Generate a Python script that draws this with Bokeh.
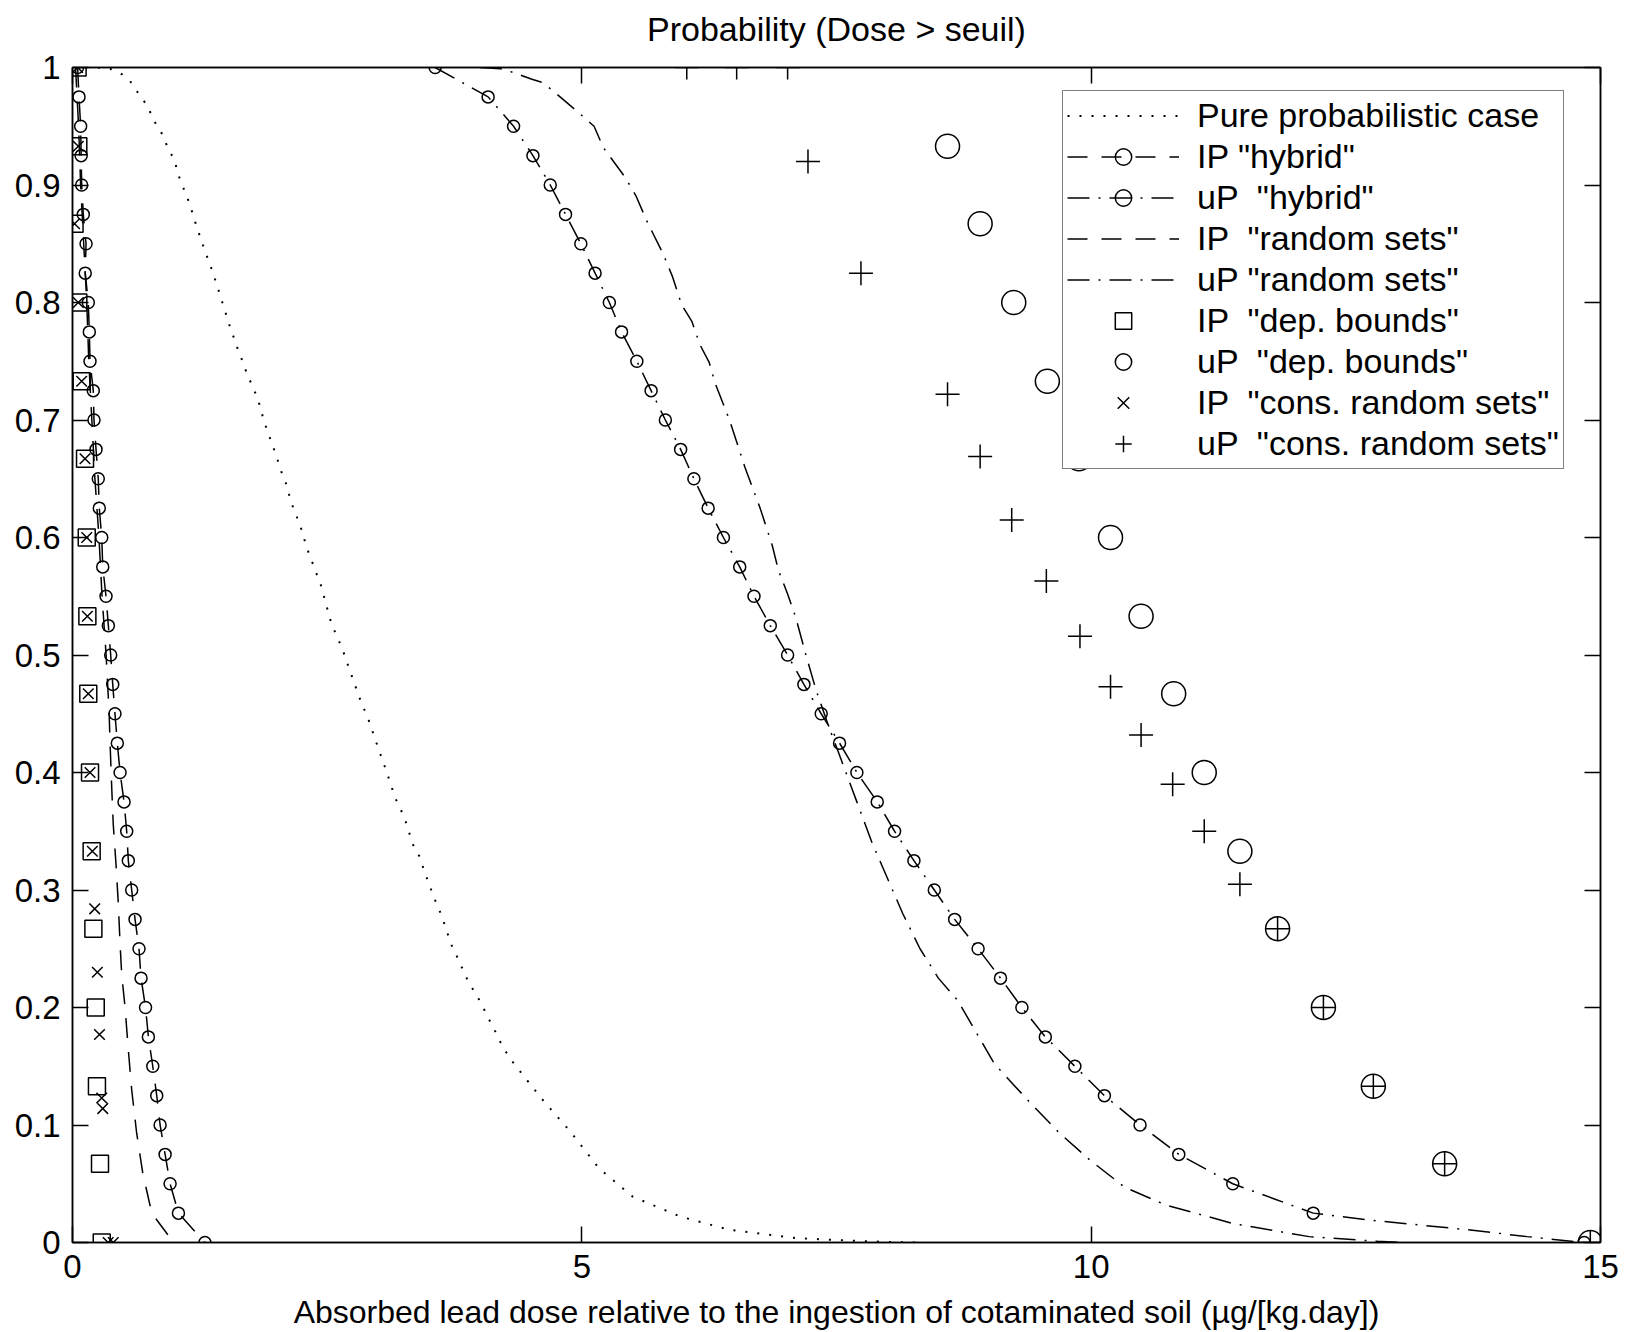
from bokeh.plotting import figure
from bokeh.models import (LinearAxis, FixedTicker, NumeralTickFormatter, Legend,
                          LegendItem, Range1d)
from bokeh.embed import file_html
from bokeh.resources import INLINE

FONT = "Liberation Sans"

# ---------------- data ----------------
x_ticks = [0, 5, 10, 15]
y_ticks = [0, 0.1, 0.2, 0.3, 0.4, 0.5, 0.6, 0.7, 0.8, 0.9, 1]

# Pure probabilistic case (dotted)
pure_x = [0.25, 0.38, 0.49, 0.58, 0.66, 0.74, 0.79, 0.87, 0.93, 1.00, 1.05, 1.10, 1.15, 1.21, 1.26,
          1.30, 1.38, 1.42, 1.46, 1.54, 1.58, 1.62, 1.66, 1.71, 1.76, 1.82, 1.88, 1.92, 1.97, 2.01,
          2.05, 2.10, 2.14, 2.18, 2.23, 2.27, 2.31, 2.44, 2.54, 2.65, 2.73, 2.82, 2.91, 3.00, 3.07,
          3.17, 3.23, 3.28, 3.34, 3.41, 3.45, 3.50, 3.57, 3.62, 3.69, 3.73, 3.80, 3.85, 3.94, 4.01,
          4.07, 4.16, 4.22, 4.30, 4.60, 4.90, 5.17, 5.50, 5.97, 6.44, 7.11, 7.78, 8.28]
pure_y = [1.0, 0.9986, 0.994, 0.987, 0.976, 0.967, 0.956, 0.945, 0.933, 0.921, 0.906, 0.895, 0.884,
          0.867, 0.854, 0.844, 0.825, 0.814, 0.803, 0.781, 0.771, 0.761, 0.752, 0.740, 0.730, 0.718,
          0.699, 0.689, 0.677, 0.667, 0.656, 0.645, 0.632, 0.622, 0.612, 0.600, 0.589, 0.559, 0.527,
          0.505, 0.485, 0.463, 0.444, 0.421, 0.404, 0.378, 0.367, 0.356, 0.339, 0.328, 0.317, 0.305,
          0.289, 0.279, 0.261, 0.251, 0.239, 0.228, 0.214, 0.204, 0.193, 0.178, 0.167, 0.156, 0.123,
          0.093, 0.063, 0.039, 0.022, 0.011, 0.0037, 0.001, 0.0]

# probability levels of the "hybrid" markers
hyb_y = [1.0, 0.975, 0.95, 0.925, 0.9, 0.875, 0.85, 0.825, 0.8, 0.775, 0.75, 0.725, 0.7, 0.675,
         0.65, 0.625, 0.6, 0.575, 0.55, 0.525, 0.5, 0.475, 0.45, 0.425, 0.4, 0.375, 0.35, 0.325,
         0.3, 0.275, 0.25, 0.225, 0.2, 0.175, 0.15, 0.125, 0.1, 0.075, 0.05, 0.025, 0.0]
# IP "hybrid"
iph_x = [0.05, 0.064, 0.08, 0.085, 0.09, 0.106, 0.133, 0.125, 0.155, 0.165, 0.172, 0.204, 0.211,
         0.231, 0.253, 0.263, 0.287, 0.297, 0.329, 0.352, 0.375, 0.395, 0.417, 0.44, 0.467, 0.506,
         0.532, 0.548, 0.581, 0.614, 0.653, 0.673, 0.717, 0.745, 0.788, 0.827, 0.86, 0.909, 0.958,
         1.04, 1.30]
# uP "hybrid"
uph_x = [3.56, 4.08, 4.33, 4.52, 4.69, 4.84, 4.99, 5.13, 5.27, 5.39, 5.54, 5.68, 5.82, 5.97, 6.10,
         6.24, 6.39, 6.55, 6.69, 6.85, 7.02, 7.18, 7.35, 7.53, 7.70, 7.90, 8.07, 8.26, 8.46, 8.66,
         8.89, 9.11, 9.32, 9.55, 9.84, 10.13, 10.48, 10.86, 11.39, 12.18, 14.84]
# extra points of the uP "hybrid" curve between its last two markers
uph_tail_x = [12.74, 13.68, 14.28]
uph_tail_y = [0.019, 0.011, 0.005]

# IP "random sets" (dashed)
iprs_x = [0.03, 0.06, 0.08, 0.11, 0.14, 0.16, 0.19, 0.22, 0.26, 0.29, 0.33, 0.36, 0.368, 0.385,
          0.40, 0.427, 0.45, 0.467, 0.483, 0.516, 0.548, 0.581, 0.63, 0.69, 0.778, 0.958, 1.04]
iprs_y = [1.0, 0.95, 0.9, 0.85, 0.8, 0.75, 0.7, 0.65, 0.6, 0.55, 0.5, 0.45, 0.427, 0.387, 0.356,
          0.322, 0.288, 0.254, 0.228, 0.2, 0.164, 0.13, 0.093, 0.059, 0.025, 0.004, 0.0]

# uP "random sets" (dash-dot)
uprs_x = [4.0, 4.2, 4.33, 4.51, 4.62, 4.76, 4.95, 5.12, 5.21, 5.43, 5.53, 5.64, 5.80, 5.89, 5.98,
          6.08, 6.16, 6.25, 6.31, 6.45, 6.60, 6.75, 6.87, 6.93, 7.02, 7.10, 7.20, 7.30, 7.42, 7.55,
          7.70, 7.85, 8.00, 8.15, 8.32, 8.50, 8.69, 9.05, 9.39, 9.69, 9.99, 10.33, 10.73, 11.40,
          12.14, 12.81, 13.08]
uprs_y = [1.0, 0.999, 0.9957, 0.990, 0.987, 0.977, 0.963, 0.950, 0.932, 0.906, 0.891, 0.869,
          0.841, 0.822, 0.798, 0.784, 0.764, 0.749, 0.731, 0.70, 0.66, 0.625, 0.593, 0.572, 0.552,
          0.532, 0.50, 0.47, 0.44, 0.41, 0.375, 0.34, 0.31, 0.28, 0.25, 0.225, 0.206, 0.152, 0.12,
          0.093, 0.07, 0.047, 0.032, 0.016, 0.005, 0.001, 0.0]

# IP "dep. bounds" (squares)
ipdb_x = [0.05, 0.057, 0.02, 0.057, 0.09, 0.123, 0.14, 0.146, 0.155, 0.172, 0.188, 0.205, 0.228,
          0.24, 0.27, 0.287]
ipdb_y = [1.0, 0.933, 0.867, 0.8, 0.733, 0.667, 0.6, 0.533, 0.467, 0.4, 0.333, 0.267, 0.2, 0.133,
          0.067, 0.0]

# uP "dep. bounds" (large circles)
updb_x = [8.59, 8.91, 9.24, 9.57, 9.88, 10.19, 10.49, 10.81, 11.11, 11.46, 11.83, 12.28, 12.77,
          13.47, 14.90]
updb_y = [0.933, 0.867, 0.8, 0.733, 0.667, 0.6, 0.533, 0.467, 0.4, 0.333, 0.267, 0.2, 0.133,
          0.067, 0.0]

# IP "cons. random sets" (x)
ipcrs_x = [0.05, 0.057, 0.02, 0.057, 0.09, 0.123, 0.14, 0.146, 0.155, 0.172, 0.195, 0.218, 0.244,
           0.265, 0.287, 0.297, 0.35, 0.40]
ipcrs_y = [1.0, 0.933, 0.867, 0.8, 0.733, 0.667, 0.6, 0.533, 0.467, 0.4, 0.333, 0.284, 0.230,
           0.177, 0.123, 0.114, 0.0, 0.0]

# uP "cons. random sets" (+)
upcrs_x = [6.03, 6.52, 7.02, 7.22, 7.74, 8.59, 8.91, 9.22, 9.56, 9.89, 10.19, 10.49, 10.80, 11.11,
           11.46, 11.83, 12.28, 12.77, 13.47, 14.90]
upcrs_y = [1.0, 1.0, 1.0, 0.920, 0.825, 0.722, 0.669, 0.615, 0.563, 0.516, 0.473, 0.432, 0.390,
           0.350, 0.305, 0.267, 0.2, 0.133, 0.067, 0.0]

legend_labels = ['Pure probabilistic case', 'IP "hybrid"', 'uP  "hybrid"', 'IP  "random sets"',
                 'uP "random sets"', 'IP  "dep. bounds"', 'uP  "dep. bounds"',
                 'IP  "cons. random sets"', 'uP  "cons. random sets"']

title_text = "Probability (Dose > seuil)"
xlabel_text = "Absorbed lead dose relative to the ingestion of cotaminated soil (\u00b5g/[kg.day])"

# ---------------- figure ----------------
p = figure(width=1630, height=1332, output_backend="svg", toolbar_location=None, title=None,
           x_range=Range1d(0, 15), y_range=Range1d(0, 1),
           min_border_left=72, min_border_right=30, min_border_top=67, min_border_bottom=90)
p.background_fill_color = "white"
p.border_fill_color = "white"
p.xgrid.visible = False
p.ygrid.visible = False
p.outline_line_color = "black"
p.outline_line_width = 1.5

LW = 1.5
DOT = "2 10"
DASH = "20 14"
DASHDOT = "22 9 2 9"

r_pure = p.line(pure_x, pure_y, line_color="black", line_width=2, line_dash=DOT)

iph_line = p.line(iph_x, hyb_y, line_color="black", line_width=LW, line_dash=DASH)
iph_mk = p.scatter(iph_x, hyb_y, marker="circle", size=12, fill_color=None,
                   line_color="black", line_width=LW)

uph_lx = uph_x[:-1] + uph_tail_x + uph_x[-1:]
uph_ly = hyb_y[:-1] + uph_tail_y + hyb_y[-1:]
uph_line = p.line(uph_lx, uph_ly, line_color="black", line_width=LW, line_dash=DASHDOT)
uph_mk = p.scatter(uph_x, hyb_y, marker="circle", size=12, fill_color=None,
                   line_color="black", line_width=LW)

r_iprs = p.line(iprs_x, iprs_y, line_color="black", line_width=LW, line_dash=DASH)
r_uprs = p.line(uprs_x, uprs_y, line_color="black", line_width=LW, line_dash=DASHDOT)

r_ipdb = p.scatter(ipdb_x, ipdb_y, marker="square", size=17, fill_color=None,
                   line_color="black", line_width=LW)
r_updb = p.scatter(updb_x, updb_y, marker="circle", size=24, fill_color=None,
                   line_color="black", line_width=LW)
r_ipcrs = p.scatter(ipcrs_x, ipcrs_y, marker="x", size=15, line_color="black", line_width=LW)
r_upcrs = p.scatter(upcrs_x, upcrs_y, marker="cross", size=24, line_color="black", line_width=LW)

# ---------------- axes ----------------
bottom_axis = p.below[0]
left_axis = p.left[0]
bottom_axis.ticker = FixedTicker(ticks=x_ticks)
left_axis.ticker = FixedTicker(ticks=y_ticks)
left_axis.formatter = NumeralTickFormatter(format="0.[0]")
bottom_axis.axis_label = xlabel_text

top_axis = LinearAxis(ticker=FixedTicker(ticks=x_ticks), axis_label=title_text)
right_axis = LinearAxis(ticker=FixedTicker(ticks=y_ticks))
p.add_layout(top_axis, "above")
p.add_layout(right_axis, "right")

for ax in [bottom_axis, left_axis, top_axis, right_axis]:
    ax.major_tick_in = 16
    ax.major_tick_out = 0
    ax.minor_tick_line_color = None
    ax.axis_line_width = LW
    ax.axis_line_color = "black"
    ax.major_tick_line_width = LW
    ax.major_tick_line_color = "black"
    ax.major_label_text_font = FONT
    ax.major_label_text_font_size = "33px"
    ax.major_label_text_color = "black"
    ax.major_label_standoff = 12
    ax.axis_label_text_font = FONT
    ax.axis_label_text_font_size = "32px"
    ax.axis_label_text_font_style = "normal"
    ax.axis_label_text_color = "black"
    ax.axis_label_standoff = 13

for ax in [top_axis, right_axis]:
    ax.major_label_text_font_size = "1px"
    ax.major_label_text_color = None
    ax.major_label_standoff = 0

top_axis.axis_label_text_font_size = "34px"
top_axis.axis_label_standoff = 20

# ---------------- legend ----------------
renders = [[r_pure], [iph_line, iph_mk], [uph_line, uph_mk], [r_iprs], [r_uprs],
           [r_ipdb], [r_updb], [r_ipcrs], [r_upcrs]]
items = [LegendItem(label=lab, renderers=rs) for lab, rs in zip(legend_labels, renders)]
legend = Legend(items=items, location=(990, 773))
legend.label_text_font = FONT
legend.label_text_font_size = "34px"
legend.label_text_color = "black"
legend.glyph_width = 112
legend.glyph_height = 41
legend.label_height = 41
legend.label_standoff = 18
legend.spacing = 0
legend.padding = 4
legend.margin = 0
legend.border_line_color = "black"
legend.border_line_width = 1.5
legend.background_fill_color = "white"
legend.background_fill_alpha = 1.0
p.add_layout(legend)

open("out.html", "w").write(file_html(p, INLINE))
